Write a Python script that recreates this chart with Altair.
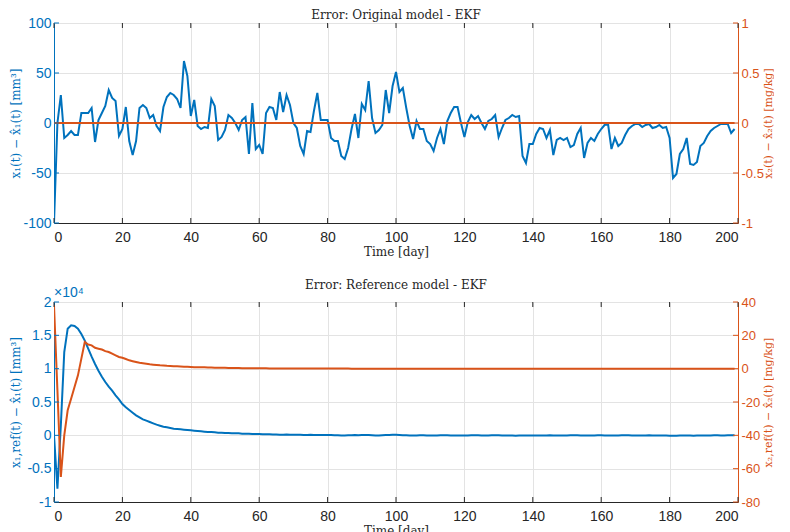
import altair as alt
import pandas as pd

# ---------------- data ----------------
days = list(range(200))

# Top panel: x1(t) - x1_hat(t) [mm^3], one value per day 0..199
x1_err = [
    -100, 0, 28, -15, -12, -8, -12, -12, 10, 10,
    10, 15, -19, 3, 10, 17, 33, 25, 22, -13,
    -6, 16, -18, -32, -18, 15, 18, 15, 5, 8,
    -3, -8, 16, 26, 30, 28, 24, 15, 62, 47,
    7, 23, -3, -6, -4, -5, 24, 17, -17, -14,
    -7, 8, 5, 0, -7, 3, 6, -31, 20, -26,
    -22, -31, 10, 16, 15, 3, 31, 11, 28, 18,
    0, -5, -23, -31, -8, -9, 12, 30, 3, 3,
    3, -15, -18, -18, -33, -36, -25, -6, 9, -15,
    19, 13, 42, 5, -10, -7, -2, 33, 10, 37,
    51, 31, 35, 15, -3, -16, 2, -6, -6, -18,
    -21, -28, -15, -6, -21, 2, 10, 16, 16, 0,
    -14, 1, 8, 4, 7, 0, -6, 2, 4, 8,
    -14, -5, 3, 5, 8, 6, 7, -33, -40, -21,
    -21, -11, -5, -6, -15, -7, -32, -17, -15, -17,
    -15, -24, -22, -11, -5, -35, -20, -15, -18, -11,
    -6, -2, -1, -26, -15, -23, -20, -12, -6, -3,
    -1, -1, -4, -2, -1, -5, -4, -2, -5, -4,
    -15, -55, -51, -31, -26, -15, -41, -42, -39, -23,
    -20, -13, -8, -5, -3, -1, -1, -1, -10, -6,
]
# Top panel: x2(t) - x2_hat(t) [mg/kg] (flat at zero)
x2_days = [0, 199]
x2_err = [0, 0]

# Bottom panel: x1,ref(t) - x1_hat(t) [x10^4 mm^3]
x1_ref_err = [
    0.0, -0.80, 0.15, 1.25, 1.60, 1.65, 1.64, 1.60, 1.52, 1.42,
    1.30, 1.18, 1.07, 0.97, 0.88, 0.80, 0.73, 0.67, 0.60, 0.54,
    0.47, 0.42, 0.38, 0.34, 0.30, 0.27, 0.24, 0.22, 0.20, 0.18,
    0.16, 0.145, 0.13, 0.12, 0.11, 0.10, 0.095, 0.09, 0.085, 0.08,
    0.075, 0.07, 0.065, 0.06, 0.055, 0.05, 0.05, 0.045, 0.04, 0.04,
    0.035, 0.035, 0.03, 0.03, 0.03, 0.025, 0.025, 0.025, 0.02, 0.02,
    0.02, 0.018, 0.015, 0.015, 0.012, 0.012, 0.01, 0.01, 0.012, 0.01,
    0.008, 0.008, 0.01, 0.006, 0.005, 0.008, 0.006, 0.005, 0.004, 0.006,
    0.005, 0.004, 0.003, 0.0, -0.002, -0.003, 0.0, 0.002, 0.004, 0.002,
    0.005, 0.006, 0.004, 0.0, -0.003, -0.002, 0.002, 0.004, 0.006, 0.008,
    0.008, 0.006, 0.003, 0.0, -0.002, -0.003, -0.002, 0.0, 0.001, -0.002,
    -0.004, -0.003, -0.001, 0.001, 0.002, 0.001, -0.001, -0.003, -0.004, -0.003,
    -0.002, -0.001, 0.0, 0.001, 0.0, -0.002, -0.003, -0.002, 0.0, 0.001,
    0.0, -0.001, -0.002, -0.003, -0.004, -0.005, -0.004, -0.003, -0.002, -0.002,
    -0.003, -0.004, -0.003, -0.002, -0.001, 0.0, -0.001, -0.002, -0.003, -0.002,
    -0.001, 0.0, 0.001, 0.0, -0.001, -0.002, -0.003, -0.002, -0.001, 0.0,
    0.0, -0.001, -0.002, -0.003, -0.002, -0.001, 0.0, 0.001, 0.0, -0.001,
    -0.002, -0.003, -0.002, -0.001, 0.0, -0.001, -0.002, -0.002, -0.003, -0.004,
    -0.005, -0.006, -0.005, -0.004, -0.003, -0.003, -0.004, -0.005, -0.004, -0.003,
    -0.002, -0.002, -0.001, 0.0, 0.0, -0.001, -0.001, 0.0, 0.0, 0.0,
]
# Bottom panel: x2,ref(t) - x2_hat(t) [mg/kg]
x2_ref_err = [
    38, -13, -65, -40, -25, -18, -11, -4, 6, 16,
    14.5, 14, 12.5, 12, 11.5, 10.5, 10, 9, 8, 7,
    6.5, 5.8, 5.0, 4.5, 4.0, 3.5, 3.2, 2.9, 2.6, 2.4,
    2.2, 2.0, 1.9, 1.7, 1.6, 1.5, 1.4, 1.3, 1.2, 1.1,
    1.0, 0.9, 0.9, 0.8, 0.8, 0.7, 0.7, 0.6, 0.6, 0.5,
    0.5, 0.45, 0.4, 0.4, 0.35, 0.3, 0.3, 0.25, 0.25, 0.2,
    0.2, 0.2, 0.18, 0.16, 0.15, 0.14, 0.13, 0.12, 0.11, 0.1,
    0.1, 0.09, 0.08, 0.08, 0.07, 0.06, 0.06, 0.05, 0.05, 0.05,
    0.04, 0.04, 0.04, 0.03, 0.03, 0.03, 0.03, 0.02, 0.02, 0.02,
    0.02, 0.02, 0.02, 0.01, 0.01, 0.01, 0.01, 0.01, 0.01, 0.01,
    0.01, 0.01, 0.01, 0.01, 0.01, 0.0, 0.0, 0.0, 0.0, 0.0,
    0.0, 0.0, 0.0, 0.0, 0.0, 0.0, 0.0, 0.0, 0.0, 0.0,
    0.0, 0.0, 0.0, 0.0, 0.0, 0.0, 0.0, 0.0, 0.0, 0.0,
    0.0, 0.0, 0.0, 0.0, 0.0, 0.0, 0.0, 0.0, 0.0, 0.0,
    0.0, 0.0, 0.0, 0.0, 0.0, 0.0, 0.0, 0.0, 0.0, 0.0,
    0.0, 0.0, 0.0, 0.0, 0.0, 0.0, 0.0, 0.0, 0.0, 0.0,
    0.0, 0.0, 0.0, 0.0, 0.0, 0.0, 0.0, 0.0, 0.0, 0.0,
    0.0, 0.0, 0.0, 0.0, 0.0, 0.0, 0.0, 0.0, 0.0, 0.0,
    0.0, 0.0, 0.0, 0.0, 0.0, 0.0, 0.0, 0.0, 0.0, 0.0,
    0.0, 0.0, 0.0, 0.0, 0.0, 0.0, 0.0, 0.0, 0.0, 0.0,
]

x_ticks = [0, 20, 40, 60, 80, 100, 120, 140, 160, 180, 200]
top_left_ticks = [-100, -50, 0, 50, 100]
top_right_ticks = [-1, -0.5, 0, 0.5, 1]
bot_left_ticks = [-1, -0.5, 0, 0.5, 1, 1.5, 2]
bot_right_ticks = [-80, -60, -40, -20, 0, 20, 40]

# ---------------- styling ----------------
BLUE = "#0072BD"
ORANGE = "#D95319"
DARK = "#262626"
GRID = "#e3e3e3"
W, H = 684, 200
SANS = "Liberation Sans"
SERIF = "DejaVu Serif"
LBL = "'' + datum.value"


def panel(left_df, left_domain, left_ticks, left_title,
          right_df, right_domain, right_ticks, right_title,
          title, extra=None):
    xs = alt.Scale(domain=[0, 200], nice=False, zero=False)
    x_axis = alt.Axis(values=x_ticks, labelExpr=LBL, grid=True, gridColor=GRID,
                      ticks=False, domainColor=DARK, labelColor=DARK,
                      labelFont=SANS, labelFontSize=14, labelPadding=7,
                      title="Time [day]", titleFont=SERIF, titleFontSize=12,
                      titleFontWeight="normal", titleColor=DARK, titlePadding=2)
    ls = alt.Scale(domain=left_domain, nice=False, zero=False)
    rs = alt.Scale(domain=right_domain, nice=False, zero=False)

    left_line = alt.Chart(left_df).mark_line(color=BLUE, strokeWidth=2, clip=True).encode(
        x=alt.X("t:Q", scale=xs, axis=x_axis),
        y=alt.Y("v:Q", scale=ls, axis=alt.Axis(
            orient="left", values=left_ticks, labelExpr=LBL, grid=True, gridColor=GRID,
            ticks=False, domainColor=BLUE, labelColor=BLUE, labelFont=SANS,
            labelFontSize=14, labelPadding=3, title=left_title, titleColor=BLUE,
            titleFont=SERIF, titleFontSize=12, titleFontWeight="normal",
            titleAngle=270, titleBaseline="bottom", titleX=-32, titleY=H / 2,
            titleAlign="center")),
    )
    right_line = alt.Chart(right_df).mark_line(color=ORANGE, strokeWidth=2, clip=True).encode(
        x=alt.X("t:Q", scale=xs),
        y=alt.Y("v:Q", scale=rs, axis=alt.Axis(
            orient="right", values=right_ticks, labelExpr=LBL, grid=False,
            ticks=False, domainColor=ORANGE, labelColor=ORANGE, labelFont=SANS,
            labelFontSize=13, labelPadding=3, title=right_title, titleColor=ORANGE,
            titleFont=SERIF, titleFontSize=11, titleFontWeight="normal",
            titleAngle=270, titleBaseline="top", titleX=24, titleY=H / 2,
            titleAlign="center")),
    )
    tick_df = pd.DataFrame({"t": x_ticks})
    xt_bot = alt.Chart(tick_df).mark_rule(color=DARK, strokeWidth=1).encode(
        x=alt.X("t:Q", scale=xs), y=alt.value(H), y2=alt.value(H - 5))
    xt_top = alt.Chart(tick_df).mark_rule(color=DARK, strokeWidth=1).encode(
        x=alt.X("t:Q", scale=xs), y=alt.value(0), y2=alt.value(5))
    yl = alt.Chart(pd.DataFrame({"v": left_ticks})).mark_rule(color=BLUE, strokeWidth=1).encode(
        y=alt.Y("v:Q", scale=ls, axis=None), x=alt.value(0), x2=alt.value(5))
    yr = alt.Chart(pd.DataFrame({"v": right_ticks})).mark_rule(color=ORANGE, strokeWidth=1).encode(
        y=alt.Y("v:Q", scale=rs, axis=None), x=alt.value(W), x2=alt.value(W - 5))

    layers = [left_line, right_line, xt_bot, xt_top, yl, yr]
    if extra is not None:
        layers.append(extra)
    return alt.layer(*layers).resolve_scale(y="independent").properties(
        width=W, height=H,
        title=alt.TitleParams(title, font=SERIF, fontSize=12, fontWeight="normal",
                              color=DARK, offset=-6, anchor="middle", frame="group"))


top = panel(pd.DataFrame({"t": days, "v": x1_err}), [-100, 100], top_left_ticks,
            "x₁(t) − x̂₁(t) [mm³]",
            pd.DataFrame({"t": x2_days, "v": x2_err}), [-1, 1], top_right_ticks,
            "x₂(t) − x̂₂(t) [mg/kg]",
            "Error: Original model - EKF")

exp_label = alt.Chart(pd.DataFrame({"s": ["×10⁴"]})).mark_text(
    color=BLUE, font=SANS, fontSize=14, align="left", baseline="middle").encode(
    text="s:N", x=alt.value(0), y=alt.value(-9))

bottom = panel(pd.DataFrame({"t": days, "v": x1_ref_err}), [-1, 2], bot_left_ticks,
               "x₁,ref(t) − x̂₁(t) [mm³]",
               pd.DataFrame({"t": days, "v": x2_ref_err}), [-80, 40], bot_right_ticks,
               "x₂,ref(t) − x̂₂(t) [mg/kg]",
               "Error: Reference model - EKF", extra=exp_label)

chart = alt.vconcat(top, bottom, spacing=79, bounds="flush").configure_view(
    stroke=DARK, strokeWidth=1).properties(
    padding={"left": 0, "top": 0, "right": 0, "bottom": 0}, background="white")

chart.save("out.html", embed_options={"renderer": "svg", "actions": False})
